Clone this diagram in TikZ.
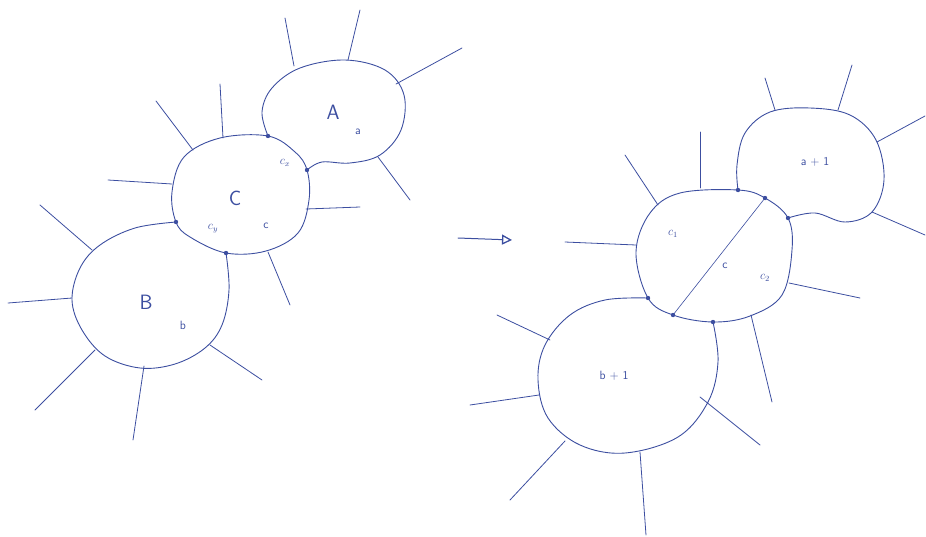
\documentclass[tikz,border=0pt]{standalone}
\usetikzlibrary{arrows.meta}
\definecolor{ink}{RGB}{60,78,160}
\tikzset{
  pen/.style={draw=ink, line width=0.9pt, line cap=round, line join=round},
  spoke/.style={draw=ink, line width=0.8pt, line cap=round},
  dotmark/.style={fill=ink},
  lab/.style={text=ink, inner sep=0pt, font=\sffamily\large},
  biglab/.style={text=ink, inner sep=0pt, font=\sffamily\huge},
}
\begin{document}
\begin{tikzpicture}[x=1pt,y=-1pt]
\useasboundingbox (0,0) rectangle (926,536);
% ---------------- left figure ----------------
\coordinate (ca1) at (268,136);
\coordinate (ca2) at (307,170);
\coordinate (cb1) at (176,222);
\coordinate (cb2) at (226,253);
% C
\draw[pen] plot[smooth cycle, tension=0.6] coordinates {(172,192) (184,157) (220,138) (268,136) (295,152) (307,170) (309,200) (298,233) (266,251) (226,253) (190,237) (176,222)};
% A
\draw[pen] plot[smooth, tension=0.6] coordinates {(ca2) (322,162) (350,163) (380,155) (401,130) (404,95) (385,70) (345,60) (300,68) (272,88) (262,112) (ca1)};
% B
\draw[pen] plot[smooth, tension=0.6] coordinates {(cb2) (229,290) (222,325) (205,348) (175,364) (140,368) (105,356) (82,330) (72,300) (80,268) (100,245) (135,228) (cb1)};
% spokes A
\draw[spoke] (285,18) -- (294,66);
\draw[spoke] (360,10) -- (348,60);
\draw[spoke] (396,84) -- (462,48);
\draw[spoke] (378,157) -- (410,200);
% spokes C
\draw[spoke] (220,84) -- (223,138);
\draw[spoke] (156,101) -- (193,150);
\draw[spoke] (108,180) -- (172,184);
\draw[spoke] (306,209) -- (360,207);
\draw[spoke] (268,252) -- (290,305);
% spokes B
\draw[spoke] (40,205) -- (92,250);
\draw[spoke] (8,303) -- (72,298);
\draw[spoke] (35,410) -- (95,350);
\draw[spoke] (133,440) -- (144,366);
\draw[spoke] (210,345) -- (262,380);
\foreach \p in {ca1,ca2,cb1,cb2} \fill[dotmark] (\p) circle (2.2pt);
% labels
\node[biglab] (labA) at (333,112) {A};
\node[lab] (laba) at (358,132) {a};
\node[lab] (labcx) at (285,163) {$c_x$};
\node[biglab] (labC) at (235,198) {C};
\node[lab] (labcy) at (213,229) {$c_y$};
\node[lab] (labc) at (266,226) {c};
\node[biglab] (labB) at (146,302) {B};
\node[lab] (labb) at (183,325) {b};
% ---------------- arrow ----------------
\coordinate (ar1) at (458,238);
\coordinate (ar2) at (512,240);
\draw[pen, line width=1pt, -{Triangle[open, length=10pt, width=10pt, line width=1.3pt]}] (ar1) -- (ar2);
% ---------------- right figure ----------------
\coordinate (d1) at (765,198);
\coordinate (d2) at (673,315);
\coordinate (pa1) at (738,190);
\coordinate (pa2) at (788,218);
\coordinate (pb1) at (648,298);
\coordinate (pb2) at (713,322);
% C'
\draw[pen] plot[smooth cycle, tension=0.6] coordinates {(636,252) (650,213) (680,193) (pa1) (d1) (pa2) (792,250) (782,295) (750,316) (pb2) (d2) (pb1)};
\draw[pen, line width=0.6pt] (d1) -- (d2);
% a+1
\draw[pen] plot[smooth, tension=0.6] coordinates {(pa2) (815,213) (845,222) (872,212) (884,180) (876,140) (850,115) (810,108) (770,112) (745,133) (737,165) (pa1)};
% b+1
\draw[pen] plot[smooth, tension=0.6] coordinates {(pb1) (605,300) (570,315) (545,345) (538,380) (548,418) (580,445) (625,453) (678,437) (708,402) (718,362) (pb2)};
% spokes a+1
\draw[spoke] (765,78) -- (775,110);
\draw[spoke] (852,65) -- (838,110);
\draw[spoke] (877,142) -- (925,116);
\draw[spoke] (872,212) -- (925,235);
% spokes C'
\draw[spoke] (700,132) -- (700,188);
\draw[spoke] (625,155) -- (658,205);
\draw[spoke] (565,242) -- (636,245);
\draw[spoke] (789,283) -- (860,298);
\draw[spoke] (751,315) -- (772,402);
% spokes b+1
\draw[spoke] (497,315) -- (550,340);
\draw[spoke] (470,405) -- (539,395);
\draw[spoke] (510,500) -- (565,441);
\draw[spoke] (646,535) -- (640,452);
\draw[spoke] (700,397) -- (760,445);
\foreach \p in {pa1,d1,pa2,pb1,d2,pb2} \fill[dotmark] (\p) circle (2.2pt);
% labels
\node[lab] (labc1) at (673,234) {$c_1$};
\node[lab] (labcc) at (725,266) {c};
\node[lab] (labc2) at (765,278) {$c_2$};
\node[lab] (labap) at (815,162) {a + 1};
\node[lab] (labbp) at (614,376) {b + 1};
\end{tikzpicture}
\end{document}
